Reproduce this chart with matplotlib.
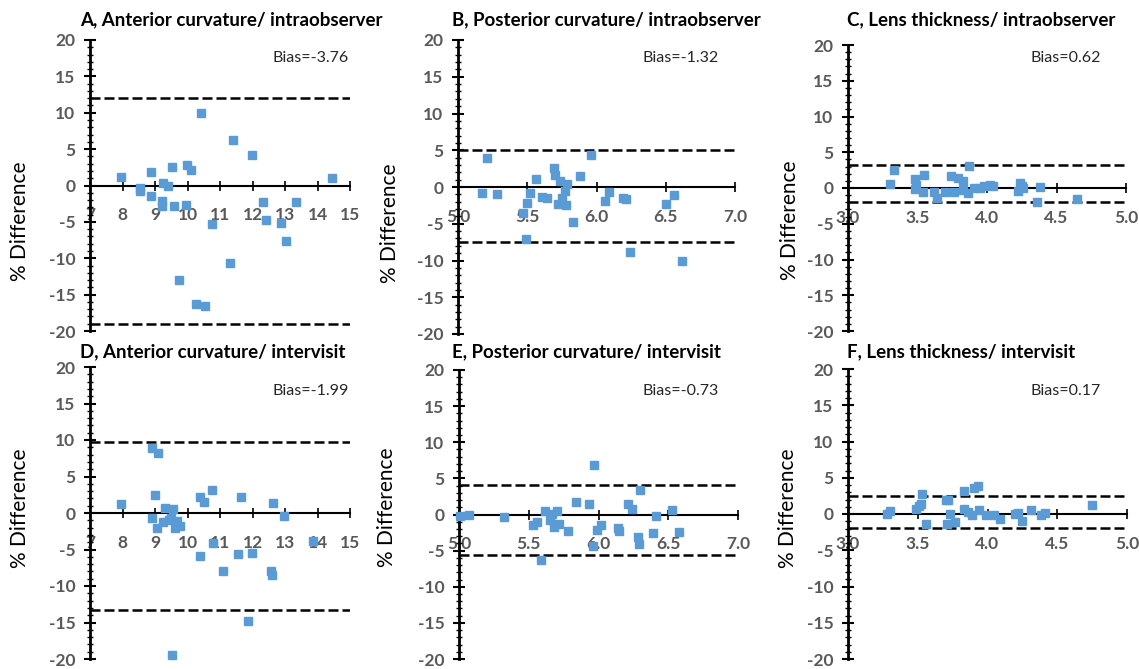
#Bland-Altman plots, anterior/posterior curvature and lens thickness
import numpy as np
import matplotlib
matplotlib.use('Agg')
import matplotlib.pyplot as plt
from matplotlib.ticker import MultipleLocator, FormatStrFormatter

plt.rcParams['font.family'] = ['Lato', 'DejaVu Sans']
plt.rcParams['axes.unicode_minus'] = False

# A, anterior curvature / intraobserver
antintra_x = [7.96, 8.55, 8.55, 8.88, 8.88, 9.22, 9.22, 9.26, 9.40, 9.53, 9.57, 9.94, 9.98, 10.10,
              10.40, 9.74, 10.25, 10.53, 10.76, 11.30, 11.41, 11.97, 12.31, 12.43, 12.87, 13.03,
              13.33, 14.45]
antintra_y = [1.2, -0.3, -0.7, 1.8, -1.5, -2.1, -2.8, 0.35, 0.0, 2.5, -2.8, -2.7, 2.8, 2.1,
              9.95, -13.0, -16.3, -16.5, -5.3, -10.7, 6.3, 4.15, -2.3, -4.75, -5.1, -7.6,
              -2.25, 1.05]
# B, posterior curvature / intraobserver
postintra_x = [5.17, 5.21, 5.28, 5.47, 5.50, 5.49, 5.52, 5.56, 5.61, 5.64, 5.69, 5.70, 5.72, 5.74,
               5.75, 5.77, 5.78, 5.79, 5.83, 5.88, 5.96, 6.06, 6.09, 6.19, 6.21, 6.24, 6.50,
               6.56, 6.62]
postintra_y = [-0.8, 4.0, -0.95, -3.5, -2.2, -7.1, -0.8, 1.1, -1.3, -1.5, 2.65, 1.65, -2.25, 0.85,
               -1.5, -0.6, -2.4, 0.4, -4.7, 1.5, 4.3, -1.85, -0.7, -1.5, -1.7, -8.9, -2.3,
               -1.1, -10.0]
# C, lens thickness / intraobserver
lensintra_x = [3.30, 3.33, 3.48, 3.48, 3.49, 3.54, 3.55, 3.62, 3.64, 3.70, 3.74, 3.76, 3.79, 3.83,
               3.83, 3.86, 3.87, 3.91, 3.95, 3.98, 4.02, 4.04, 4.22, 4.24, 4.25, 4.26, 4.36,
               4.38, 4.65]
lensintra_y = [0.6, 2.5, 1.2, -0.2, 0.45, -0.5, 1.8, -0.5, -1.4, -0.5, 1.7, -0.5, 1.4, 1.0,
               -0.25, -0.7, 3.1, 0.0, 0.0, 0.25, 0.4, 0.3, -0.4, 0.7, 0.25, 0.0, -2.0,
               0.2, -1.6]
# D, anterior curvature / intervisit
antinter_x = [7.96, 8.90, 9.09, 8.90, 9.00, 9.06, 9.31, 9.26, 9.43, 9.55, 9.50, 9.62, 9.67, 9.78,
              9.53, 10.37, 10.37, 10.50, 10.76, 10.78, 11.09, 11.55, 11.66, 11.97, 11.86,
              12.58, 12.61, 12.63, 12.96, 13.87]
antinter_y = [1.25, 8.95, 8.25, -0.65, 2.4, -2.0, 0.7, -1.2, -1.0, 0.6, -0.75, -2.1, -1.1, -1.8,
              -19.4, -5.95, 2.15, 1.5, 3.2, -4.05, -8.0, -5.65, 2.25, -5.5, -14.75,
              -7.9, -8.45, 1.4, -0.4, -3.9]
# E, posterior curvature / intervisit
postinter_x = [5.01, 5.07, 5.32, 5.53, 5.56, 5.59, 5.62, 5.65, 5.67, 5.68, 5.70, 5.72, 5.78, 5.84,
               5.93, 5.97, 5.96, 5.99, 6.02, 6.14, 6.15, 6.21, 6.24, 6.28, 6.29, 6.30, 6.39,
               6.41, 6.53, 6.58]
postinter_y = [-0.2, 0.0, -0.35, -1.5, -1.0, -6.35, 0.55, -0.8, 0.1, -1.7, 0.45, -1.25, -2.3, 1.7,
               1.5, 6.8, -4.35, -2.15, -1.4, -1.85, -2.3, 1.45, 0.8, -3.1, -4.15, 3.45, -2.6,
               -0.25, 0.6, -2.45]
# F, lens thickness / intervisit
lensinter_x = [3.28, 3.30, 3.49, 3.51, 3.52, 3.53, 3.56, 3.70, 3.72, 3.71, 3.73, 3.77, 3.83, 3.83,
               3.86, 3.89, 3.90, 3.93, 3.94, 3.99, 4.05, 4.09, 4.20, 4.22, 4.25, 4.31, 4.38,
               4.41, 4.75]
lensinter_y = [0.05, 0.35, 0.75, 1.1, 1.4, 2.8, -1.4, 2.0, 2.0, -1.4, 0.05, -1.1, 3.15, 0.65,
               0.3, -0.2, 3.6, 3.8, 0.5, -0.1, -0.2, -0.75, 0.05, 0.2, -1.0, 0.5, -0.1,
               0.2, 1.2]

titles = ['A, Anterior curvature/ intraobserver', 'B, Posterior curvature/ intraobserver',
          'C, Lens thickness/ intraobserver', 'D, Anterior curvature/ intervisit',
          'E, Posterior curvature/ intervisit', 'F, Lens thickness/ intervisit']
bias = ['-3.76', '-1.32', '0.62', '-1.99', '-0.73', '0.17']
loa_upper = [12.0, 5.05, 3.25, 9.7, 4.15, 2.55]
loa_lower = [-19.0, -7.45, -1.95, -13.3, -5.6, -1.9]
xlims = [(7, 15), (5, 7), (3, 5), (7, 15), (5, 7), (3, 5)]
xsteps = [1, 0.5, 0.5, 1, 0.5, 0.5]
xfmt = ['%d', '%.1f', '%.1f', '%d', '%.1f', '%.1f']

xs = [antintra_x, postintra_x, lensintra_x, antinter_x, postinter_x, lensinter_x]
ys = [antintra_y, postintra_y, lensintra_y, antinter_y, postinter_y, lensinter_y]

W, H = 1139, 669
# axes boxes in pixels: left, right, top, bottom
boxes = [(90, 350, 40, 331), (458, 735, 40, 334), (848, 1126, 45, 331),
         (90, 350, 367, 659), (459, 738, 370, 659), (848, 1127, 369, 659)]
title_pos = [(80, 20), (452, 20), (847, 20), (80, 352), (452, 352), (847, 352)]
ylab_pos = [(20, 221), (390, 223), (790, 220), (20, 508), (387, 507), (788, 508)]
bias_pos = [(273, 58), (642, 58), (1030, 58), (272, 391), (643, 391), (1030, 391)]

gray = '#595959'
blue = '#5B9BD5'

fig = plt.figure(figsize=(W / 100, H / 100), dpi=100)

for i in range(6):
    l, r, t, b = boxes[i]
    ax = fig.add_axes([l / W, 1 - b / H, (r - l) / W, (b - t) / H])
    ax.set_xlim(*xlims[i])
    ax.set_ylim(-20, 20)
    for s in ['top', 'right']:
        ax.spines[s].set_visible(False)
    ax.spines['bottom'].set_position(('data', 0))
    ax.spines['bottom'].set_linewidth(1.5)
    ax.spines['left'].set_linewidth(2)
    ax.yaxis.set_major_locator(MultipleLocator(5))
    ax.yaxis.set_minor_locator(MultipleLocator(1))
    ax.xaxis.set_major_locator(MultipleLocator(xsteps[i]))
    ax.xaxis.set_major_formatter(FormatStrFormatter(xfmt[i]))
    ax.tick_params(axis='y', which='major', direction='inout', length=9, width=1.5,
                   pad=6, labelsize=12.5, labelcolor=gray)
    ax.tick_params(axis='y', which='minor', direction='inout', length=5, width=1)
    ax.tick_params(axis='x', direction='inout', length=7, width=1.2, pad=12,
                   labelsize=12.5, labelcolor=gray)
    for lab in ax.get_xticklabels() + ax.get_yticklabels():
        lab.set_fontweight('bold')

    ax.axhline(loa_upper[i], color='black', lw=1.8, dashes=(4, 1.6), zorder=2)
    ax.axhline(loa_lower[i], color='black', lw=1.8, dashes=(4, 1.6), zorder=2)
    ax.plot(xs[i], ys[i], 's', color=blue, ms=6, mec=blue, zorder=4, clip_on=False)

    tx, ty = title_pos[i]
    fig.text(tx / W, 1 - ty / H, titles[i], fontsize=13.5, fontweight='bold',
             ha='left', va='center', color='black')
    lx, ly = ylab_pos[i]
    fig.text(lx / W, 1 - ly / H, '% Difference', fontsize=15, rotation=90,
             ha='center', va='center', color='black')
    bx, by = bias_pos[i]
    fig.text(bx / W, 1 - by / H, 'Bias=' + bias[i], fontsize=11.5,
             ha='left', va='center', color='#262626')

plt.savefig('out.png', dpi=100)
